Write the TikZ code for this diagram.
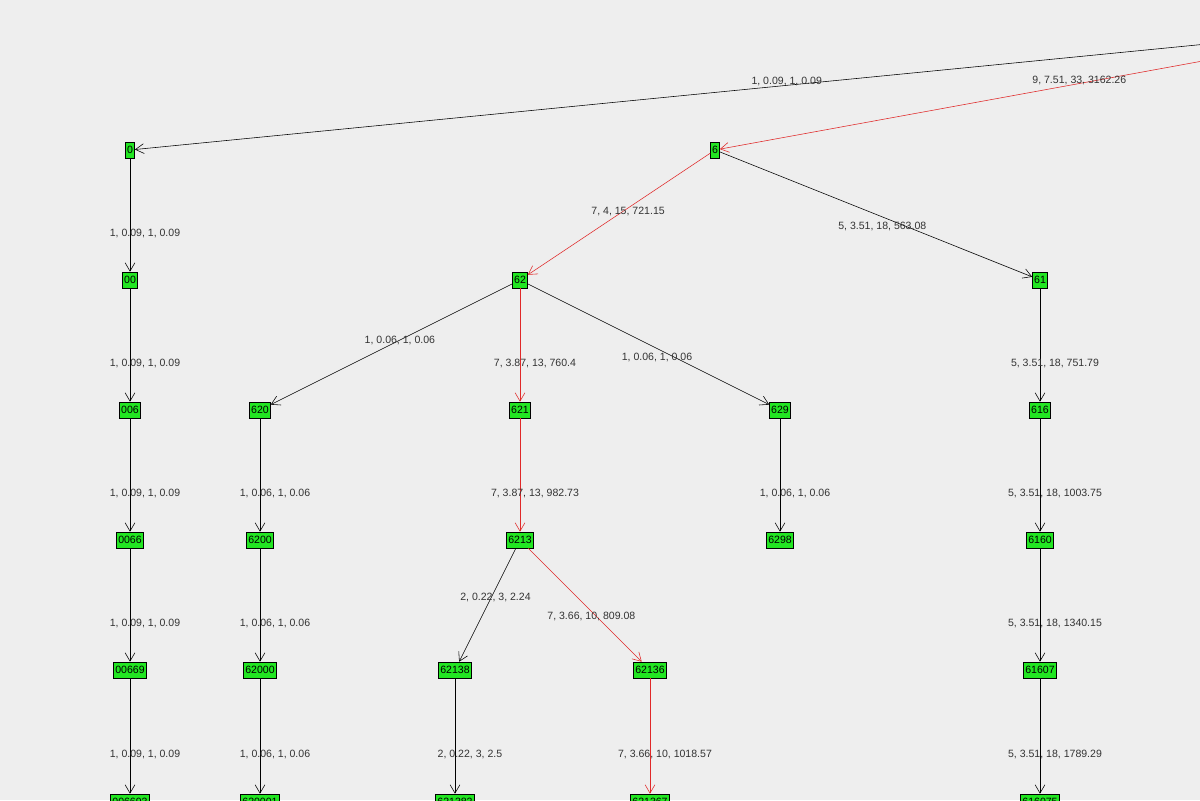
\documentclass[tikz,border=0pt]{standalone}
\usepackage{fontspec}
\setmainfont{Liberation Sans}
\usetikzlibrary{arrows.meta}
\definecolor{bgcol}{HTML}{EEEEEE}
\definecolor{nodecol}{HTML}{22E622}
\definecolor{hot}{HTML}{E02828}
\tikzset{
  tnode/.style={draw=black,fill=nodecol,inner sep=1.2pt,minimum height=0.4cm,font=\fontsize{7.5}{8}\selectfont},
  tedge/.style={-{Straight Barb[length=6pt,width=7pt]},thin},
  elabel/.style={font=\fontsize{7.5}{8}\selectfont,text=black!80}
}
\begin{document}
\begin{tikzpicture}[x=0.025cm,y=-0.025cm]
\fill[bgcol](0,0) rectangle (1200,800);
\useasboundingbox(0,0) rectangle (1200,800);
\clip(0,0) rectangle (1200,800);
\node[tnode](r) at (1400,25){};
\foreach \nm/\kx/\ky in {0/130/150,00/130/280,006/130/410,0066/130/540,00669/130/670,006693/130/802,
  620/260/410,6200/260/540,62000/260/670,620001/260/802,
  6/715/150,62/520/280,621/520/410,6213/520/540,62138/455/670,621382/455/802,62136/650/670,621367/650/802,
  629/780/410,6298/780/540,
  61/1040/280,616/1040/410,6160/1040/540,61607/1040/670,616075/1040/802}
  {\node[tnode](n\nm) at (\kx,\ky){\nm};}
% edges: from/to/pos/dx/dy/label/colour
\foreach \ka/\kb/\kp/\kdx/\kdy/\lb/\col in {
  r/n0/0.484/0/-4/{1, 0.09, 1, 0.09}/black,
  r/n6/0.47/0/-3/{9, 7.51, 33, 3162.26}/hot,
  n0/n00/0.66/15/0/{1, 0.09, 1, 0.09}/black,
  n00/n006/0.66/15/0/{1, 0.09, 1, 0.09}/black,
  n006/n0066/0.66/15/0/{1, 0.09, 1, 0.09}/black,
  n0066/n00669/0.66/15/0/{1, 0.09, 1, 0.09}/black,
  n00669/n006693/0.66/15/0/{1, 0.09, 1, 0.09}/black,
  n620/n6200/0.66/15/0/{1, 0.06, 1, 0.06}/black,
  n6200/n62000/0.66/15/0/{1, 0.06, 1, 0.06}/black,
  n62000/n620001/0.66/15/0/{1, 0.06, 1, 0.06}/black,
  n6/n62/0.45/0/4/{7, 4, 15, 721.15}/hot,
  n6/n61/0.52/0/10/{5, 3.51, 18, 563.08}/black,
  n62/n620/0.465/0/0/{1, 0.06, 1, 0.06}/black,
  n62/n621/0.66/15/0/{7, 3.87, 13, 760.4}/hot,
  n62/n629/0.535/0/9/{1, 0.06, 1, 0.06}/black,
  n621/n6213/0.66/15/0/{7, 3.87, 13, 982.73}/hot,
  n629/n6298/0.66/15/0/{1, 0.06, 1, 0.06}/black,
  n6213/n62138/0.43/4/0/{2, 0.22, 3, 2.24}/black,
  n6213/n62136/0.6/-5/0/{7, 3.66, 10, 809.08}/hot,
  n62138/n621382/0.66/15/0/{2, 0.22, 3, 2.5}/black,
  n62136/n621367/0.66/15/0/{7, 3.66, 10, 1018.57}/hot,
  n61/n616/0.66/15/0/{5, 3.51, 18, 751.79}/black,
  n616/n6160/0.66/15/0/{5, 3.51, 18, 1003.75}/black,
  n6160/n61607/0.66/15/0/{5, 3.51, 18, 1340.15}/black,
  n61607/n616075/0.66/15/0/{5, 3.51, 18, 1789.29}/black}
  {\draw[tedge,draw=\col](\ka)--(\kb)node[elabel,pos=\kp,xshift=\kdx*0.71pt,yshift=-\kdy*0.71pt]{\lb};}
\end{tikzpicture}
\end{document}
